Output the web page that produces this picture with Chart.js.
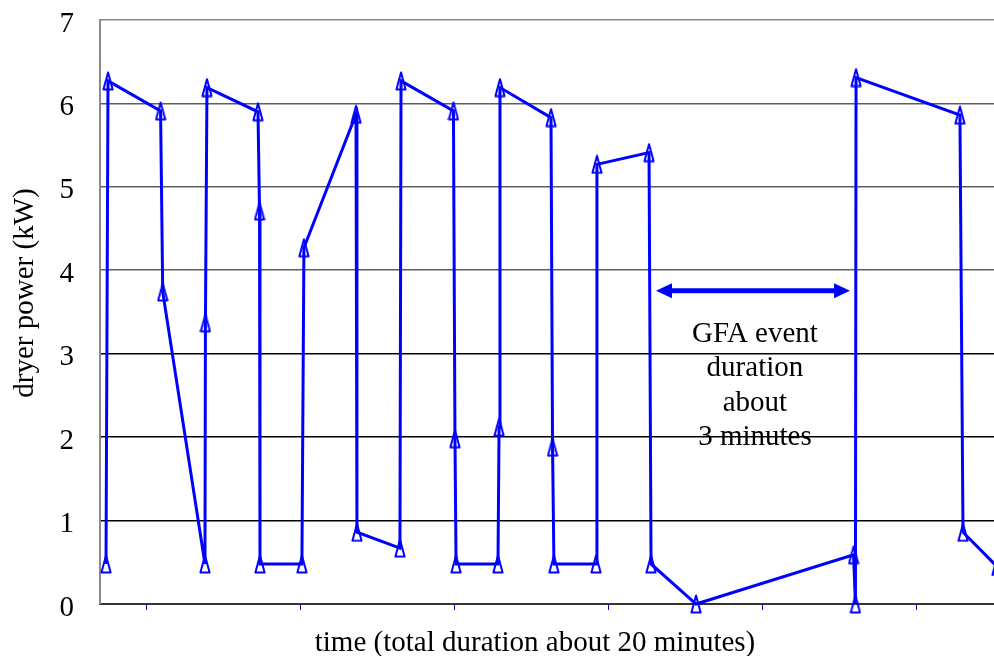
<!DOCTYPE html>
<html>
<head>
<meta charset="utf-8">
<title>Dryer power</title>
<script src="https://cdn.jsdelivr.net/npm/chart.js@4.4.1/dist/chart.umd.min.js"></script>
<style>
  html, body { margin: 0; padding: 0; background: #fff; overflow: hidden; }
  #wrap { position: relative; width: 994px; height: 656px; }
</style>
</head>
<body>
<div id="wrap"><canvas id="chart"></canvas></div>
<script>
// sample times (in tick intervals) and dryer power readings in kW
const timeSteps = [-0.261, -0.248, 0.093, 0.107, 0.381, 0.384, 0.394, 0.725, 0.735, 0.738,
                   1.010, 1.023, 1.361, 1.367, 1.646, 1.653, 1.993, 2.003, 2.010, 2.282,
                   2.289, 2.295, 2.626, 2.636, 2.645, 2.918, 2.924, 3.262, 3.275, 3.567,
                   4.589, 4.601, 4.605, 5.279, 5.299, 5.519, 5.532];
const dryerPower = [0.48, 6.27, 5.91, 3.74, 0.48, 3.37, 6.19, 5.90, 4.71, 0.48,
                    0.48, 4.27, 5.87, 0.86, 0.67, 6.27, 5.91, 1.98, 0.48, 0.48,
                    2.12, 6.19, 5.83, 1.88, 0.48, 0.48, 5.27, 5.41, 0.48, 0.00,
                    0.59, 0.00, 6.31, 5.86, 0.86, 0.45, 2.85];
const powerTicks = [0, 1, 2, 3, 4, 5, 6, 7];
const timeTicks = [0, 1, 2, 3, 4, 5];

// GFA event: double arrow span and note
const gfaSpan = [3.307, 4.566];
const gfaLevel = 3.755;
const gfaText = ['GFA event', 'duration', 'about', '3 minutes'];
const gfaTextAt = [3.949, 3.23];

const yTitle = 'dryer power (kW)';
const xTitle = 'time (total duration about 20 minutes)';

const BLUE = '#0000ff';
const SERIF = "'Liberation Serif', 'Times New Roman', serif";

// open, tall triangle used as the point marker
function makeTriangle() {
  const c = document.createElement('canvas');
  c.width = 12;
  c.height = 20;
  const g = c.getContext('2d');
  g.strokeStyle = BLUE;
  g.lineWidth = 2;
  g.lineJoin = 'round';
  g.beginPath();
  g.moveTo(6, 1.5);
  g.lineTo(10.6, 18.5);
  g.lineTo(1.4, 18.5);
  g.closePath();
  g.stroke();
  return c;
}

const gfaPlugin = {
  id: 'gfaNote',
  afterDatasetsDraw(chart) {
    const ctx = chart.ctx;
    const x = chart.scales.x, y = chart.scales.y;
    const x0 = x.getPixelForValue(gfaSpan[0]);
    const x1 = x.getPixelForValue(gfaSpan[1]);
    const yy = y.getPixelForValue(gfaLevel);
    const head = 16, half = 7.5;
    ctx.save();
    ctx.strokeStyle = BLUE;
    ctx.fillStyle = BLUE;
    ctx.lineWidth = 5;
    ctx.beginPath();
    ctx.moveTo(x0 + head - 2, yy);
    ctx.lineTo(x1 - head + 2, yy);
    ctx.stroke();
    ctx.beginPath();
    ctx.moveTo(x0, yy);
    ctx.lineTo(x0 + head, yy - half);
    ctx.lineTo(x0 + head, yy + half);
    ctx.closePath();
    ctx.fill();
    ctx.beginPath();
    ctx.moveTo(x1, yy);
    ctx.lineTo(x1 - head, yy - half);
    ctx.lineTo(x1 - head, yy + half);
    ctx.closePath();
    ctx.fill();

    ctx.fillStyle = '#000';
    ctx.font = '29px ' + SERIF;
    ctx.textAlign = 'center';
    ctx.textBaseline = 'middle';
    const tx = x.getPixelForValue(gfaTextAt[0]);
    const ty = y.getPixelForValue(gfaTextAt[1]);
    gfaText.forEach((line, i) => ctx.fillText(line, tx, ty + i * 34.3));
    ctx.restore();
  },
  afterDraw(chart) {
    const ctx = chart.ctx;
    ctx.save();
    ctx.fillStyle = '#000';
    ctx.font = '29px ' + SERIF;
    ctx.textAlign = 'center';
    ctx.textBaseline = 'alphabetic';
    ctx.fillText(xTitle, 535, 651);
    ctx.translate(33, 293);
    ctx.rotate(-Math.PI / 2);
    ctx.fillText(yTitle, 0, 0);
    ctx.restore();
  }
};

const points = timeSteps.map((t, i) => ({ x: t, y: dryerPower[i] }));

function gridColor(ctx) {
  const v = ctx.tick ? ctx.tick.value : 0;
  if (v === 7) return '#8a8a8a';
  if (v === 0) return '#333';
  if (v >= 4) return '#5e5e5e';
  return '#000';
}

function noScalePadding(s) {
  s.paddingTop = 0;
  s.paddingBottom = 0;
  s.paddingLeft = 0;
  s.paddingRight = 0;
}

new Chart(document.getElementById('chart'), {
  type: 'line',
  data: {
    datasets: [{
      data: points,
      borderColor: BLUE,
      borderWidth: 3,
      tension: 0,
      fill: false,
      clip: false,
      pointStyle: makeTriangle(),
      pointRadius: 9,
      pointHoverRadius: 9
    }]
  },
  options: {
    responsive: true,
    maintainAspectRatio: false,
    devicePixelRatio: 1,
    animation: false,
    events: [],
    layout: { autoPadding: false, padding: { left: 6, top: 20, right: 0, bottom: 0 } },
    plugins: {
      legend: { display: false },
      tooltip: { enabled: false }
    },
    scales: {
      x: {
        type: 'linear',
        min: -0.3,
        max: 5.5,
        afterBuildTicks: s => { s.ticks = timeTicks.map(v => ({ value: v })); },
        afterFit: s => { s.height = 52; noScalePadding(s); },
        ticks: { display: false },
        grid: {
          drawOnChartArea: false,
          drawTicks: true,
          tickLength: 6,
          tickColor: BLUE,
          tickWidth: 1
        },
        border: { color: '#333', width: 2 }
      },
      y: {
        min: 0,
        max: 7,
        afterBuildTicks: s => { s.ticks = powerTicks.map(v => ({ value: v })); },
        afterFit: s => { s.width = 94; noScalePadding(s); },
        ticks: {
          padding: 26,
          labelOffset: 4,
          color: '#000',
          font: { family: SERIF, size: 29 }
        },
        grid: {
          color: gridColor,
          lineWidth: 1.6,
          drawTicks: false
        },
        border: { color: '#8a8a8a', width: 2 }
      }
    }
  },
  plugins: [gfaPlugin]
});
</script>
</body>
</html>
